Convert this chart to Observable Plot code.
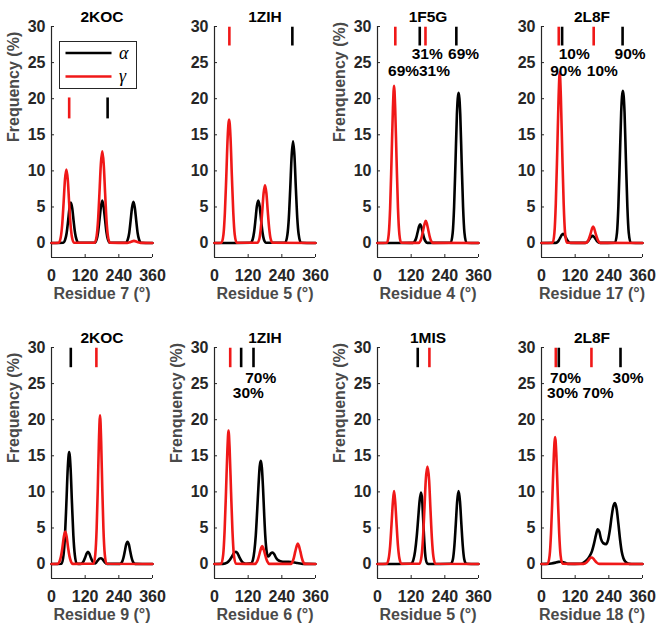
<!DOCTYPE html>
<html><head><meta charset="utf-8">
<script src="https://cdn.jsdelivr.net/npm/d3@7"></script>
<script src="https://cdn.jsdelivr.net/npm/@observablehq/plot@0.6"></script>
<style>
body{margin:0;background:#fff;}
#chart{position:relative;width:663px;height:629px;background:#fff;overflow:hidden;font-family:"Liberation Sans",Arial,sans-serif;}
#chart svg{position:absolute;overflow:visible;}
</style></head><body><div id="chart"></div>
<script>
// ---------- data (angle in degrees, frequency in %) ----------
const xTicks = [0, 120, 240, 360];
const yTicks = [0, 5, 10, 15, 20, 25, 30];
const seriesNames = ["α", "γ"];
const seriesColors = ["#000000", "#f01818"];

const titles = ["2KOC", "1ZIH", "1F5G", "2L8F", "2KOC", "1ZIH", "1MIS", "2L8F"];
const xLabels = ["Residue 7 (°)", "Residue 5 (°)", "Residue 4 (°)", "Residue 17 (°)",
                 "Residue 9 (°)", "Residue 6 (°)", "Residue 5 (°)", "Residue 18 (°)"];
const yLabels = ["Frequency (%)", "", "Frenquency (%)", "",
                 "Frequency (%)", "Frenquency (%)", "Frenquency (%)", ""];

const p1Alpha = [[0,0],[42,0.05],[49,0.5],[54,1.4],[59,3.0],[64,4.8],[69,5.6],[74,4.8],[79,3.0],[84,1.4],[89,0.5],[96,0.05],
  [154,0.05],[161,0.5],[166,1.5],[171,3.2],[176,5.0],[181,5.9],[186,5.0],[191,3.2],[196,1.5],[201,0.5],[208,0.05],
  [265,0.05],[272,0.5],[277,1.4],[282,3.1],[287,4.9],[292,5.7],[297,4.9],[302,3.1],[307,1.4],[312,0.5],[319,0.05],[360,0]];
const p1Gamma = [[0,0],[26,0.05],[33,0.8],[38,2.5],[43,5.5],[48,8.8],[53,10.2],[58,8.8],[63,5.5],[68,2.5],[73,0.8],[80,0.05],
  [154,0.05],[161,1.0],[166,3.2],[171,7.0],[176,11.0],[181,12.7],[186,11.0],[191,7.0],[196,3.2],[201,1.0],[208,0.05],
  [270,0.02],[282,0.15],[294,0.3],[306,0.15],[318,0.02],[360,0]];

const p2Alpha = [[0,0],[128,0.05],[136,0.5],[141,1.5],[146,3.2],[151,5.1],[156,5.9],[161,5.1],[166,3.2],[171,1.5],[176,0.5],[184,0.05],
  [252,0.05],[260,1.2],[265,3.5],[270,7.6],[275,12.1],[280,14.1],[285,12.1],[290,7.6],[295,3.5],[300,1.2],[308,0.05],[360,0]];
const p2Gamma = [[0,0],[25,0.05],[32,1.2],[37,4.2],[42,9.2],[47,14.7],[52,17.1],[57,14.7],[62,9.2],[67,4.2],[72,1.2],[79,0.05],
  [153,0.05],[160,0.6],[165,2.0],[170,4.3],[175,6.9],[180,8.0],[185,6.9],[190,4.3],[195,2.0],[200,0.6],[207,0.05],[360,0]];

const p3Alpha = [[0,0],[126,0.02],[133,0.25],[138,0.7],[143,1.5],[148,2.3],[152,2.6],[156,2.3],[161,1.5],[166,0.7],[171,0.25],[178,0.02],
  [261,0.05],[268,1.4],[273,5.0],[278,11.2],[283,17.8],[289,20.8],[295,17.8],[300,11.2],[305,5.0],[310,1.4],[317,0.05],[360,0]];
const p3Gamma = [[0,0],[34,0.05],[40,1.2],[45,4.8],[50,11.5],[55,18.7],[59,21.8],[63,18.7],[68,11.5],[73,4.8],[78,1.2],[84,0.05],
  [146,0.02],[153,0.3],[158,0.9],[163,1.8],[168,2.7],[172,3.1],[176,2.7],[181,1.8],[186,0.9],[191,0.3],[198,0.02],[360,0]];

const p4Alpha = [[0,0],[50,0.02],[57,0.15],[62,0.4],[67,0.75],[72,1.1],[77,1.3],[82,1.1],[87,0.75],[92,0.4],[97,0.15],[104,0.02],
  [155,0.02],[162,0.12],[167,0.3],[172,0.6],[177,0.85],[182,1.0],[187,0.85],[192,0.6],[197,0.3],[202,0.12],[209,0.02],
  [262,0.05],[269,1.4],[274,5.1],[279,11.4],[284,18.1],[290,21.1],[296,18.1],[301,11.4],[306,5.1],[311,1.4],[318,0.05],[360,0]];
const p4Gamma = [[0,0],[40,0.05],[46,1.4],[51,5.5],[56,12.5],[61,20.3],[65,23.7],[69,20.3],[74,12.5],[79,5.5],[84,1.4],[90,0.05],
  [158,0.02],[165,0.25],[170,0.7],[175,1.3],[180,2.0],[184,2.3],[188,2.0],[193,1.3],[198,0.7],[203,0.25],[210,0.02],[360,0]];

const p5Alpha = [[0,0],[36,0.05],[43,1.3],[48,3.9],[53,8.4],[58,13.3],[63,15.5],[68,13.3],[73,8.4],[78,3.9],[83,1.3],[90,0.05],
  [103,0.02],[110,0.15],[115,0.45],[120,0.9],[125,1.45],[130,1.7],[135,1.45],[140,0.9],[145,0.45],[150,0.15],
  [156,0.1],[161,0.3],[166,0.55],[171,0.75],[176,0.8],[181,0.7],[186,0.45],[191,0.2],[198,0.03],
  [244,0.03],[251,0.25],[256,0.8],[261,1.7],[266,2.7],[271,3.1],[276,2.7],[281,1.7],[286,0.8],[291,0.25],[298,0.03],[360,0]];
const p5Gamma = [[0,0],[22,0.03],[29,0.4],[34,1.1],[39,2.3],[44,3.8],[49,4.5],[54,3.8],[59,2.3],[64,1.1],[69,0.4],[76,0.03],
  [150,0.05],[156,1.3],[161,5.0],[165,10.5],[169,17.0],[173,20.6],[177,17.0],[181,10.5],[185,5.0],[190,1.3],[196,0.05],[360,0]];

const p6Alpha = [[0,0],[30,0.02],[45,0.2],[55,0.6],[63,1.1],[70,1.55],[76,1.7],[82,1.5],[88,1.0],[95,0.5],[103,0.15],[112,0.05],
  [130,0.1],[137,0.6],[142,1.8],[147,3.9],[152,7.3],[157,11.0],[161,13.5],[165,14.3],[169,13.3],[173,10.5],[177,7.0],[181,3.9],
  [186,1.7],[191,1.05],[196,1.2],[201,1.5],[207,1.6],[213,1.35],[219,0.9],[226,0.55],[235,0.4],[250,0.3],[265,0.3],[280,0.25],
  [295,0.15],[310,0.05],[320,0.02],[360,0]];
const p6Gamma = [[0,0],[24,0.05],[31,1.3],[36,4.6],[41,10.0],[46,15.9],[50,18.5],[54,15.9],[59,10.0],[64,4.6],[69,1.3],[76,0.05],
  [145,0.02],[151,0.3],[156,0.8],[161,1.5],[166,2.2],[170,2.5],[174,2.2],[179,1.5],[184,0.8],[189,0.3],[195,0.02],
  [272,0.02],[278,0.3],[283,0.9],[288,1.75],[293,2.5],[297,2.85],[301,2.5],[306,1.75],[311,0.9],[316,0.3],[322,0.02],[360,0]];

const p7Alpha = [[0,0],[120,0.05],[128,0.6],[134,1.8],[140,3.9],[145,6.3],[150,8.7],[155,9.9],[159,9.0],[163,6.0],[167,3.0],[171,1.0],[177,0.1],[185,0],
  [262,0.05],[269,0.7],[274,2.5],[279,5.5],[284,8.7],[289,10.1],[294,8.7],[299,5.5],[304,2.5],[309,0.7],[316,0.05],[360,0]];
const p7Gamma = [[0,0],[33,0.05],[40,0.8],[45,2.5],[50,5.5],[55,8.7],[59,10.1],[63,8.7],[68,5.5],[73,2.5],[78,0.8],[85,0.05],
  [150,0.05],[157,1.1],[162,3.5],[167,7.4],[172,11.6],[178,13.5],[184,11.6],[189,7.4],[194,3.5],[199,1.1],[206,0.05],[360,0]];

const p8Alpha = [[0,0],[20,0.02],[35,0.08],[50,0.2],[60,0.3],[68,0.32],[78,0.25],[88,0.1],[98,0.02],
  [140,0.05],[150,0.2],[160,0.5],[170,1.0],[180,1.8],[187,2.8],[194,4.0],[200,4.8],[206,4.5],[212,3.5],[220,2.9],[230,2.75],
  [237,3.3],[244,4.8],[250,6.6],[256,8.0],[262,8.45],[268,7.6],[274,5.6],[280,3.4],[286,1.7],[292,0.8],[300,0.3],[308,0.08],[320,0.01],[360,0]];
const p8Gamma = [[0,0],[22,0.05],[29,1.2],[34,4.3],[39,9.5],[44,15.1],[48.5,17.6],[53,15.1],[58,9.5],[63,4.3],[68,1.2],[75,0.05],
  [150,0.02],[160,0.2],[167,0.5],[173,0.8],[179,0.9],[185,0.75],[191,0.45],[197,0.2],[206,0.02],[360,0]];

// reference markers: [angle, series index]
const p1Markers = [[63,1],[200,0]];
const p2Markers = [[53,1],[277.5,0]];
const p3Markers = [[63.5,1],[150.6,0],[171,1],[281,0]];
const p4Markers = [[61.5,1],[73.5,0],[186,1],[289,0]];
const p5Markers = [[68.8,0],[160,1]];
const p6Markers = [[56,1],[95,0],[139,0]];
const p7Markers = [[143.4,0],[185,1]];
const p8Markers = [[51,1],[61.7,0],[178,1],[281.6,0]];
const markerSpans = [[17.2,20.1],[27.3,29.9],[27.3,29.9],[27.3,29.9],[27.2,29.9],[27.2,29.9],[27.2,29.9],[27.2,29.9]];

// percentage annotations: [angle, level, text]
const p3Pct = [[177,26.2,"31%"],[307,26.2,"69%"],[93,23.85,"69%"],[203,23.85,"31%"]];
const p4Pct = [[116.6,26.2,"10%"],[315.7,26.2,"90%"],[86.5,23.85,"90%"],[216.8,23.85,"10%"]];
const p6Pct = [[164.7,25.8,"70%"],[120.4,23.75,"30%"]];
const p8Pct = [[86,25.8,"70%"],[308.7,25.8,"30%"],[75.3,23.75,"30%"],[201.8,23.75,"70%"]];

const curves = [[p1Alpha,p1Gamma],[p2Alpha,p2Gamma],[p3Alpha,p3Gamma],[p4Alpha,p4Gamma],
                [p5Alpha,p5Gamma],[p6Alpha,p6Gamma],[p7Alpha,p7Gamma],[p8Alpha,p8Gamma]];
const markers = [p1Markers,p2Markers,p3Markers,p4Markers,p5Markers,p6Markers,p7Markers,p8Markers];
const pcts = [[],[],p3Pct,p4Pct,[],p6Pct,[],p8Pct];

// ---------- drawing ----------
const FONT = "'Liberation Sans', Arial, Helvetica, sans-serif";
const AXIS = "#262626";
const chart = document.getElementById("chart");
const lefts = [1, 164, 327, 491];

titles.forEach((title, i) => {
  const row = i < 4 ? 0 : 1, col = i % 4;
  const top = row ? 321 : 0;
  const height = row ? 308 : 310;
  const mb = row ? 51 : 53;
  const [alpha, gamma] = curves[i];
  const [lo, hi] = markerSpans[i];
  const mk = markers[i].map(([x, s]) => ({x, s}));
  const marks = [
    Plot.ruleX([0], {y1: -2, y2: 30, stroke: AXIS, strokeWidth: 1.2}),
    Plot.ruleY([-2], {x1: 0, x2: 360, stroke: AXIS, strokeWidth: 1.2}),
    Plot.axisX(xTicks, {tickSize: -3, text: null, label: null, stroke: AXIS}),
    Plot.axisX(xTicks, {tickSize: 0, tickPadding: 12, label: null, fill: AXIS, fontSize: 16, fontWeight: "bold"}),
    Plot.axisY(yTicks, {tickSize: -3, text: null, label: null, stroke: AXIS}),
    Plot.axisY(yTicks, {tickSize: 0, tickPadding: 6, label: null, fill: AXIS, fontSize: 16, fontWeight: "bold"}),
    Plot.line(alpha, {x: d => d[0], y: d => d[1], stroke: seriesColors[0], strokeWidth: 2.6, curve: "monotone-x"}),
    Plot.line(gamma, {x: d => d[0], y: d => d[1], stroke: seriesColors[1], strokeWidth: 2.6, curve: "monotone-x"}),
    Plot.ruleX(mk, {x: "x", y1: lo, y2: hi, stroke: d => seriesColors[d.s], strokeWidth: 2.6}),
    Plot.text(pcts[i], {x: d => d[0], y: d => d[1], text: d => d[2], fill: "#000", fontSize: 15.5, fontWeight: "bold"}),
    Plot.text([title], {text: d => d, frameAnchor: "top", dy: -9, fill: "#000", fontSize: 15.5, fontWeight: "bold", lineAnchor: "middle"}),
    Plot.text([xLabels[i]], {text: d => d, frameAnchor: "bottom", dy: 36, fill: "#4a4a4a", fontSize: 16, fontWeight: "bold", lineAnchor: "middle"})
  ];
  if (yLabels[i]) marks.push(Plot.text([yLabels[i]], {text: d => d, frameAnchor: "left", dx: -37.5, rotate: -90, fill: "#4a4a4a", fontSize: 16, fontWeight: "bold", lineAnchor: "middle"}));
  const svg = Plot.plot({
    width: 160, height,
    marginLeft: 50, marginRight: 9, marginTop: 26, marginBottom: mb,
    x: {domain: [0, 360]},
    y: {domain: [-2, 30]},
    style: {fontFamily: FONT, background: "transparent", overflow: "visible"},
    marks
  });
  svg.style.left = lefts[col] + "px";
  svg.style.top = top + "px";
  chart.appendChild(svg);
});

// legend (first panel)
const lg = d3.select(chart).append("svg")
  .attr("width", 80).attr("height", 50)
  .style("left", "59px").style("top", "41px");
lg.append("rect").attr("x", 0.5).attr("y", 0.5).attr("width", 77).attr("height", 47)
  .attr("fill", "#fff").attr("stroke", AXIS).attr("stroke-width", 1);
seriesNames.forEach((name, k) => {
  const yy = 12 + k * 23.5;
  lg.append("line").attr("x1", 6.5).attr("x2", 52.5).attr("y1", yy).attr("y2", yy)
    .attr("stroke", seriesColors[k]).attr("stroke-width", 2.6);
  lg.append("text").attr("x", 60).attr("y", yy).attr("dy", "0.32em")
    .attr("font-family", "'Liberation Serif', 'DejaVu Serif', serif").attr("font-style", "italic")
    .attr("font-size", 18).attr("fill", "#000").text(name);
});
</script></body></html>
